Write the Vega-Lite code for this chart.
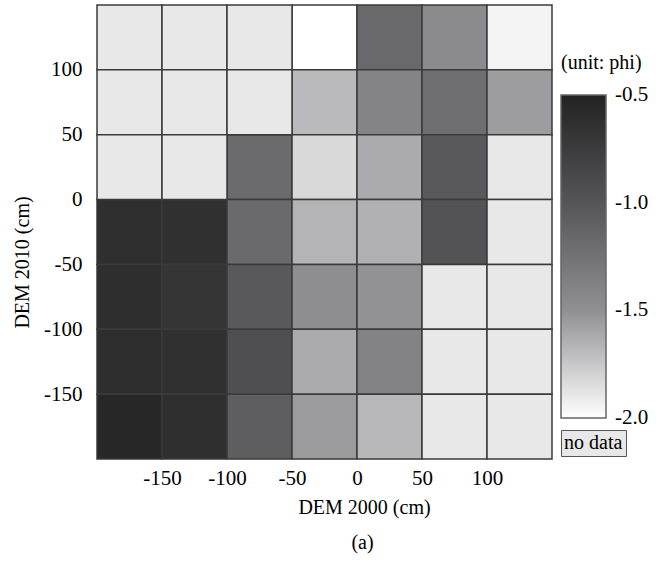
{
  "$schema": "https://vega.github.io/schema/vega-lite/v6.json",
  "width": 455,
  "height": 454,
  "autosize": {"type": "none"},
  "padding": {"left": 97, "top": 5, "right": 118, "bottom": 106},
  "background": "white",
  "title": {
    "text": "(a)",
    "orient": "bottom",
    "font": "Liberation Serif",
    "fontSize": 20,
    "fontWeight": "normal",
    "color": "black",
    "offset": 16,
    "dx": 38
  },
  "config": {
    "view": {"stroke": null},
    "axis": {
      "grid": false,
      "ticks": false,
      "domain": false,
      "labelFont": "Liberation Serif",
      "labelFontSize": 21,
      "labelColor": "black",
      "labelExpr": "replace(datum.label, '−', '-')",
      "titleFont": "Liberation Serif",
      "titleFontSize": 20,
      "titleFontWeight": "normal",
      "titleColor": "black"
    }
  },
  "data": {
    "values": [
      {"dem2000_lo": -200, "dem2000_hi": -150, "dem2010_lo": 100, "dem2010_hi": 150, "phi": null},
      {"dem2000_lo": -150, "dem2000_hi": -100, "dem2010_lo": 100, "dem2010_hi": 150, "phi": null},
      {"dem2000_lo": -100, "dem2000_hi": -50, "dem2010_lo": 100, "dem2010_hi": 150, "phi": null},
      {"dem2000_lo": -50, "dem2000_hi": 0, "dem2010_lo": 100, "dem2010_hi": 150, "phi": -2.0},
      {"dem2000_lo": 0, "dem2000_hi": 50, "dem2010_lo": 100, "dem2010_hi": 150, "phi": -1.17},
      {"dem2000_lo": 50, "dem2000_hi": 100, "dem2010_lo": 100, "dem2010_hi": 150, "phi": -1.46},
      {"dem2000_lo": 100, "dem2000_hi": 150, "dem2010_lo": 100, "dem2010_hi": 150, "phi": -1.95},

      {"dem2000_lo": -200, "dem2000_hi": -150, "dem2010_lo": 50, "dem2010_hi": 100, "phi": null},
      {"dem2000_lo": -150, "dem2000_hi": -100, "dem2010_lo": 50, "dem2010_hi": 100, "phi": null},
      {"dem2000_lo": -100, "dem2000_hi": -50, "dem2010_lo": 50, "dem2010_hi": 100, "phi": null},
      {"dem2000_lo": -50, "dem2000_hi": 0, "dem2010_lo": 50, "dem2010_hi": 100, "phi": -1.69},
      {"dem2000_lo": 0, "dem2000_hi": 50, "dem2010_lo": 50, "dem2010_hi": 100, "phi": -1.40},
      {"dem2000_lo": 50, "dem2000_hi": 100, "dem2010_lo": 50, "dem2010_hi": 100, "phi": -1.21},
      {"dem2000_lo": 100, "dem2000_hi": 150, "dem2010_lo": 50, "dem2010_hi": 100, "phi": -1.56},

      {"dem2000_lo": -200, "dem2000_hi": -150, "dem2010_lo": 0, "dem2010_hi": 50, "phi": null},
      {"dem2000_lo": -150, "dem2000_hi": -100, "dem2010_lo": 0, "dem2010_hi": 50, "phi": null},
      {"dem2000_lo": -100, "dem2000_hi": -50, "dem2010_lo": 0, "dem2010_hi": 50, "phi": -1.19},
      {"dem2000_lo": -50, "dem2000_hi": 0, "dem2010_lo": 0, "dem2010_hi": 50, "phi": -1.83},
      {"dem2000_lo": 0, "dem2000_hi": 50, "dem2010_lo": 0, "dem2010_hi": 50, "phi": -1.62},
      {"dem2000_lo": 50, "dem2000_hi": 100, "dem2010_lo": 0, "dem2010_hi": 50, "phi": -1.03},
      {"dem2000_lo": 100, "dem2000_hi": 150, "dem2010_lo": 0, "dem2010_hi": 50, "phi": null},

      {"dem2000_lo": -200, "dem2000_hi": -150, "dem2010_lo": -50, "dem2010_hi": 0, "phi": -0.62},
      {"dem2000_lo": -150, "dem2000_hi": -100, "dem2010_lo": -50, "dem2010_hi": 0, "phi": -0.63},
      {"dem2000_lo": -100, "dem2000_hi": -50, "dem2010_lo": -50, "dem2010_hi": 0, "phi": -1.18},
      {"dem2000_lo": -50, "dem2000_hi": 0, "dem2010_lo": -50, "dem2010_hi": 0, "phi": -1.66},
      {"dem2000_lo": 0, "dem2000_hi": 50, "dem2010_lo": -50, "dem2010_hi": 0, "phi": -1.65},
      {"dem2000_lo": 50, "dem2000_hi": 100, "dem2010_lo": -50, "dem2010_hi": 0, "phi": -0.98},
      {"dem2000_lo": 100, "dem2000_hi": 150, "dem2010_lo": -50, "dem2010_hi": 0, "phi": null},

      {"dem2000_lo": -200, "dem2000_hi": -150, "dem2010_lo": -100, "dem2010_hi": -50, "phi": -0.61},
      {"dem2000_lo": -150, "dem2000_hi": -100, "dem2010_lo": -100, "dem2010_hi": -50, "phi": -0.68},
      {"dem2000_lo": -100, "dem2000_hi": -50, "dem2010_lo": -100, "dem2010_hi": -50, "phi": -1.03},
      {"dem2000_lo": -50, "dem2000_hi": 0, "dem2010_lo": -100, "dem2010_hi": -50, "phi": -1.48},
      {"dem2000_lo": 0, "dem2000_hi": 50, "dem2010_lo": -100, "dem2010_hi": -50, "phi": -1.51},
      {"dem2000_lo": 50, "dem2000_hi": 100, "dem2010_lo": -100, "dem2010_hi": -50, "phi": null},
      {"dem2000_lo": 100, "dem2000_hi": 150, "dem2010_lo": -100, "dem2010_hi": -50, "phi": null},

      {"dem2000_lo": -200, "dem2000_hi": -150, "dem2010_lo": -150, "dem2010_hi": -100, "phi": -0.61},
      {"dem2000_lo": -150, "dem2000_hi": -100, "dem2010_lo": -150, "dem2010_hi": -100, "phi": -0.63},
      {"dem2000_lo": -100, "dem2000_hi": -50, "dem2010_lo": -150, "dem2010_hi": -100, "phi": -0.94},
      {"dem2000_lo": -50, "dem2000_hi": 0, "dem2010_lo": -150, "dem2010_hi": -100, "phi": -1.62},
      {"dem2000_lo": 0, "dem2000_hi": 50, "dem2010_lo": -150, "dem2010_hi": -100, "phi": -1.39},
      {"dem2000_lo": 50, "dem2000_hi": 100, "dem2010_lo": -150, "dem2010_hi": -100, "phi": null},
      {"dem2000_lo": 100, "dem2000_hi": 150, "dem2010_lo": -150, "dem2010_hi": -100, "phi": null},

      {"dem2000_lo": -200, "dem2000_hi": -150, "dem2010_lo": -200, "dem2010_hi": -150, "phi": -0.54},
      {"dem2000_lo": -150, "dem2000_hi": -100, "dem2010_lo": -200, "dem2010_hi": -150, "phi": -0.62},
      {"dem2000_lo": -100, "dem2000_hi": -50, "dem2010_lo": -200, "dem2010_hi": -150, "phi": -1.08},
      {"dem2000_lo": -50, "dem2000_hi": 0, "dem2010_lo": -200, "dem2010_hi": -150, "phi": -1.55},
      {"dem2000_lo": 0, "dem2000_hi": 50, "dem2010_lo": -200, "dem2010_hi": -150, "phi": -1.68},
      {"dem2000_lo": 50, "dem2000_hi": 100, "dem2010_lo": -200, "dem2010_hi": -150, "phi": null},
      {"dem2000_lo": 100, "dem2000_hi": 150, "dem2010_lo": -200, "dem2010_hi": -150, "phi": null}
    ]
  },
  "encoding": {
    "x": {
      "field": "dem2000_lo",
      "type": "quantitative",
      "scale": {"domain": [-200, 150], "nice": false, "zero": false},
      "axis": {
        "values": [-150, -100, -50, 0, 50, 100],
        "labelPadding": 8,
        "title": "DEM 2000 (cm)",
        "titleX": 267,
        "titlePadding": 9
      }
    },
    "x2": {"field": "dem2000_hi"},
    "y": {
      "field": "dem2010_lo",
      "type": "quantitative",
      "scale": {"domain": [-200, 150], "nice": false, "zero": false},
      "axis": {
        "values": [-150, -100, -50, 0, 50, 100],
        "labelPadding": 15,
        "title": "DEM 2010 (cm)",
        "titleX": -75,
        "titleY": 257,
        "titleAlign": "center",
        "titleBaseline": "middle"
      }
    },
    "y2": {"field": "dem2010_hi"}
  },
  "layer": [
    {
      "transform": [{"filter": "isValid(datum.phi)"}],
      "mark": {"type": "rect", "stroke": "#3a3a3a", "strokeWidth": 1.5},
      "encoding": {
        "color": {
          "field": "phi",
          "type": "quantitative",
          "scale": {
            "domain": [-2.0, -1.5, -1.0, -0.5],
            "range": ["#ffffff", "#909093", "#555558", "#232323"],
            "interpolate": "rgb"
          },
          "legend": {
            "orient": "none",
            "legendX": 464,
            "legendY": 48,
            "direction": "vertical",
            "title": "(unit: phi)",
            "titleFont": "Liberation Serif",
            "titleFontSize": 20,
            "titleFontWeight": "normal",
            "titleColor": "black",
            "titlePadding": 22,
            "gradientLength": 323,
            "gradientThickness": 45,
            "gradientStrokeColor": "#666666",
            "gradientStrokeWidth": 1.5,
            "values": [-1.9999, -1.5, -1.0, -0.5001],
            "format": ".1f",
            "labelExpr": "replace(datum.label, '−', '-')",
            "labelFont": "Liberation Serif",
            "labelFontSize": 21,
            "labelColor": "black",
            "labelBaseline": "middle",
            "labelOffset": 9
          }
        }
      }
    },
    {
      "transform": [{"filter": "!isValid(datum.phi)"}],
      "mark": {"type": "rect", "stroke": "#3a3a3a", "strokeWidth": 1.5},
      "encoding": {
        "fill": {
          "datum": "no data",
          "type": "nominal",
          "scale": {"range": ["#e8e8e8"]},
          "legend": {
            "orient": "none",
            "legendX": 464,
            "legendY": 425,
            "title": null,
            "symbolSize": 1,
            "symbolOpacity": 0,
            "symbolStrokeWidth": 0,
            "labelFont": "Liberation Serif",
            "labelFontSize": 20,
            "labelColor": "black",
            "labelOffset": -20,
            "fillColor": "#e8e8e8",
            "strokeColor": "#555555",
            "padding": 3
          }
        }
      }
    }
  ]
}
